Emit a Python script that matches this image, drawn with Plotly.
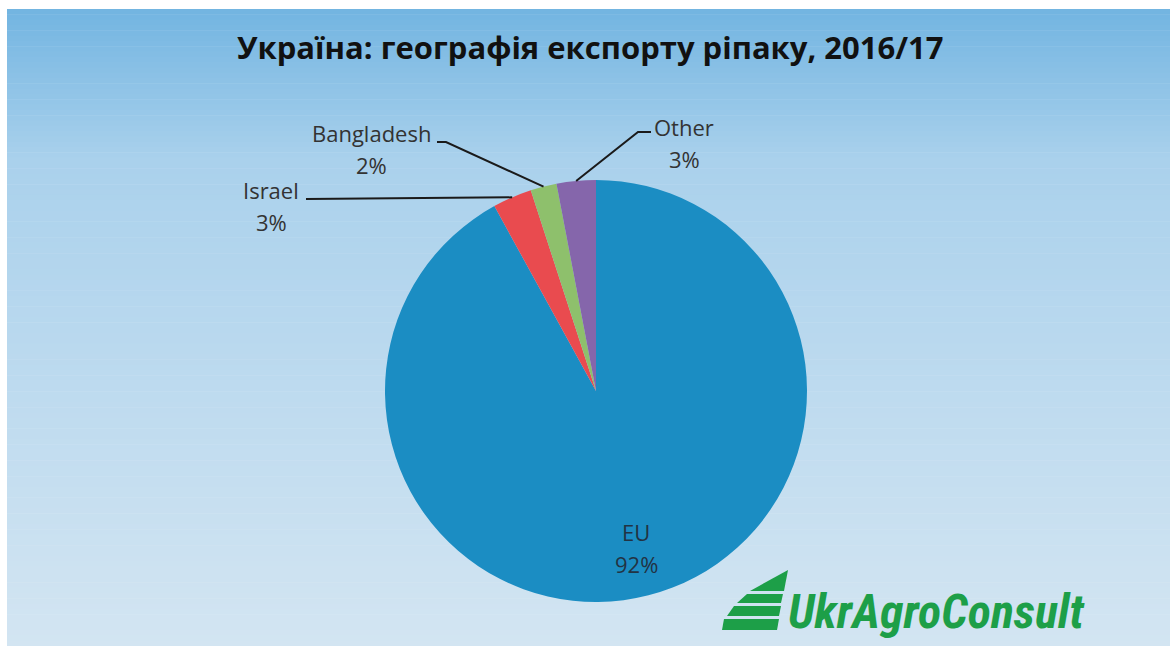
import math
import plotly.graph_objects as go

# Rapeseed export destinations, share of total (%)
countries = ["EU", "Israel", "Bangladesh", "Other"]
shares = [92, 3, 2, 3]
slice_colors = ["#1b8dc3", "#e94b4f", "#8ec06c", "#8566ab"]

title_text = "Україна: географія експорту ріпаку, 2016/17"
logo_text = "UkrAgroConsult"

W, H = 1170, 646
CX, CY, R = 596, 391, 211          # pie centre and radius in pixels


def px(x):
    return x / W


def py(y):
    return 1 - y / H


fig = go.Figure()

# vertical background gradient made of thin bands
stops = [(9, (114, 180, 225)), (160, (170, 209, 236)), (646, (211, 229, 242))]
bands = 120
top, bottom = 9, 646
for i in range(bands):
    y0 = top + (bottom - top) * i / bands
    y1 = top + (bottom - top) * (i + 1) / bands
    ym = (y0 + y1) / 2
    for (a, ca), (b, cb) in zip(stops[:-1], stops[1:]):
        if a <= ym <= b:
            t = (ym - a) / (b - a)
            c = tuple(round(ca[k] + (cb[k] - ca[k]) * t) for k in range(3))
            break
    fig.add_shape(type="rect", xref="paper", yref="paper", layer="below",
                  x0=px(7), x1=px(1170), y0=py(min(y1 + 0.5, H)), y1=py(y0),
                  line_width=0, fillcolor="rgb(%d,%d,%d)" % c)

fig.add_trace(go.Pie(
    labels=countries, values=shares, sort=False, direction="clockwise",
    rotation=0, marker=dict(colors=slice_colors, line=dict(width=0)),
    textinfo="none", hoverinfo="label+percent", showlegend=False,
    domain=dict(x=[px(CX - R), px(CX + R)], y=[py(CY + R), py(CY - R)]),
))

total = sum(shares)
cum = 0
mid_angle = {}
for name, v in zip(countries, shares):
    mid_angle[name] = (cum + v / 2) / total * 2 * math.pi
    cum += v


def edge_point(name, frac=1.0):
    a = mid_angle[name]
    return CX + R * frac * math.sin(a), CY - R * frac * math.cos(a)


def pct(name):
    return "%d%%" % round(shares[countries.index(name)] / total * 100)


label_font = dict(family="Open Sans, sans-serif", size=22, color="#333333")

# label block positions (name line y, percent line y, centre x) and leader elbow
layout_pos = {
    "Israel": dict(x=271, y1=190, y2=222, path=[(306, 199)]),
    "Bangladesh": dict(x=371, y1=133, y2=165, path=[(437, 142), (446, 142)]),
    "Other": dict(x=684, y1=127, y2=159, path=[(651, 132), (638, 132)]),
}

for name, p in layout_pos.items():
    fig.add_annotation(x=px(p["x"]), y=py(p["y1"]), xref="paper", yref="paper",
                       text=name, showarrow=False, font=label_font,
                       xanchor="center", yanchor="middle")
    fig.add_annotation(x=px(p["x"]), y=py(p["y2"]), xref="paper", yref="paper",
                       text=pct(name), showarrow=False, font=label_font,
                       xanchor="center", yanchor="middle")
    pts = p["path"] + [edge_point(name)]
    d = "M " + " L ".join("%f %f" % (px(x), py(y)) for x, y in pts)
    fig.add_shape(type="path", xref="paper", yref="paper", path=d,
                  line=dict(color="#1a1a1a", width=2))

# EU label inside its slice
ex, ey = edge_point("EU", 0.766)
eu_font = dict(family="Open Sans, sans-serif", size=22, color="#223344")
fig.add_annotation(x=px(ex), y=py(ey - 16), xref="paper", yref="paper",
                   text="EU", showarrow=False, font=eu_font,
                   xanchor="center", yanchor="middle")
fig.add_annotation(x=px(ex), y=py(ey + 16), xref="paper", yref="paper",
                   text=pct("EU"), showarrow=False, font=eu_font,
                   xanchor="center", yanchor="middle")

# title
fig.add_annotation(x=px(590), y=py(47), xref="paper", yref="paper",
                   text="<b>" + title_text + "</b>", showarrow=False,
                   font=dict(family="Open Sans, sans-serif", size=31, color="#111111"),
                   xanchor="center", yanchor="middle")

# logo: stacked stripes forming a slanted triangle, then the wordmark
green = "#1d9f48"
stripes = [
    [(788, 570), (784, 591), (750, 591)],
    [(747, 594), (783, 594), (781, 603), (737, 603)],
    [(734, 606), (781, 606), (779, 616), (727, 616)],
    [(724, 619), (779, 619), (777, 630), (722, 630)],
]
for poly in stripes:
    d = "M " + " L ".join("%f %f" % (px(x), py(y)) for x, y in poly) + " Z"
    fig.add_shape(type="path", xref="paper", yref="paper", path=d,
                  fillcolor=green, line_width=0)

fig.add_annotation(x=px(786), y=py(611), xref="paper", yref="paper",
                   text="<b><i>" + logo_text + "</i></b>", showarrow=False,
                   font=dict(family="Liberation Sans Narrow, Roboto Condensed, Roboto, sans-serif",
                             size=48, color=green),
                   xanchor="left", yanchor="middle")

fig.update_layout(
    width=W, height=H, margin=dict(l=0, r=0, t=0, b=0),
    paper_bgcolor="white", plot_bgcolor="white",
)

fig.write_html("out.html")
